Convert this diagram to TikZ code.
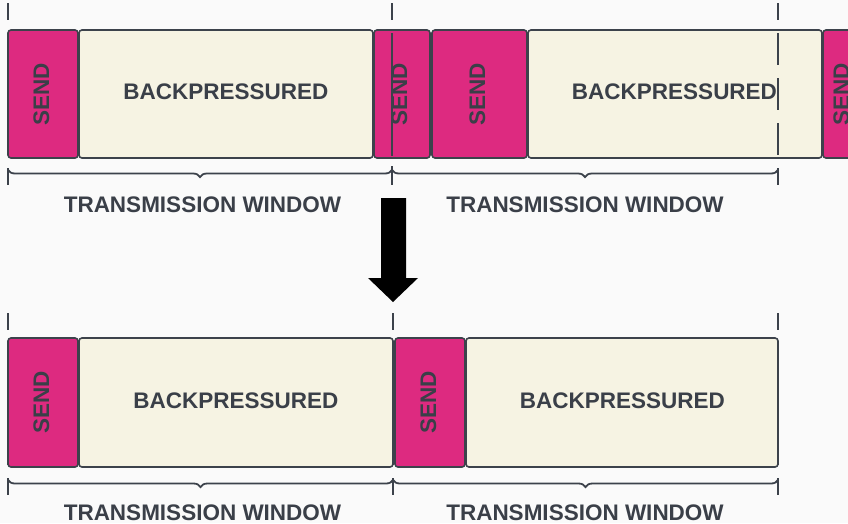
\documentclass[tikz,border=0pt]{standalone}
\usepackage{fontspec}
\setmainfont{Liberation Sans}
\usetikzlibrary{decorations.pathreplacing}
\definecolor{pinkc}{HTML}{DD2A80}
\definecolor{creamc}{HTML}{F6F3E3}
\definecolor{edgec}{HTML}{3C424B}
\definecolor{txtc}{HTML}{3A3F48}
\definecolor{bgc}{HTML}{FAFAFA}
\begin{document}
\begin{tikzpicture}[x=1pt,y=-1pt,
  box/.style={draw=edgec, line width=1.6pt, rounded corners=3pt, inner sep=0pt, outer sep=0pt, anchor=north west},
  sendbox/.style={box, fill=pinkc},
  bpbox/.style={box, fill=creamc},
  lbl/.style={font=\bfseries\fontsize{22.5}{27}\selectfont, text=txtc, inner sep=0pt, anchor=base},
  sendlbl/.style={lbl, rotate=90},
  winline/.style={draw=edgec, line width=2pt, dash pattern=on 32pt off 13pt, dash phase=15pt},
  bracestyle/.style={draw=edgec, line width=1.8pt, decorate, decoration={brace, mirror, amplitude=7pt, aspect=0.5}},
]
\useasboundingbox[fill=bgc] (0,0) rectangle (848,523);
\clip (0,0) rectangle (848,523);

% ---------- top row ----------
\node[sendbox, minimum width=70pt, minimum height=128pt] (ts1) at (8,30) {};
\node[bpbox, minimum width=294pt, minimum height=128pt] (tb1) at (79,30) {};
\node[sendbox, minimum width=56pt, minimum height=128pt] (ts2) at (374,30) {};
\node[sendbox, minimum width=95pt, minimum height=128pt] (ts3) at (432,30) {};
\node[bpbox, minimum width=294pt, minimum height=128pt] (tb2) at (528,30) {};
\node[sendbox, minimum width=60pt, minimum height=128pt] (ts4) at (823,30) {};

\node[sendlbl] (tl1) at (49,94) {SEND};
\node[lbl] (tl2) at (226,99) {BACKPRESSURED};
\node[sendlbl] (tl3) at (407,94) {SEND};
\node[sendlbl] (tl4) at (485,94) {SEND};
\node[lbl] (tl5) at (674.5,99) {BACKPRESSURED};
\node[sendlbl] (tl6) at (849,94) {SEND};

% window markers (top)
\coordinate (ta1) at (8,3);   \coordinate (tz1) at (8,185);
\coordinate (ta2) at (392,3); \coordinate (tz2) at (392,185);
\coordinate (ta3) at (778,3); \coordinate (tz3) at (778,185);
\draw[winline] (ta1) -- (tz1);
\draw[draw=edgec, line width=2pt, dash pattern=on 17pt off 13pt on 123pt off 10pt on 20pt] (ta2) -- (tz2);
\draw[winline] (ta3) -- (tz3);

\coordinate (tbr1) at (8,170); \coordinate (tbr2) at (392,170); \coordinate (tbr3) at (778,170);
\draw[bracestyle] (tbr1) -- (tbr2);
\draw[bracestyle] (tbr2) -- (tbr3);
\node[lbl] (tw1) at (202.5,212) {TRANSMISSION WINDOW};
\node[lbl] (tw2) at (585,212) {TRANSMISSION WINDOW};

% ---------- arrow ----------
\coordinate (aw1) at (381,198);
\fill[black] (381,198) -- (406,198) -- (406,278) -- (418,278) -- (393,302) -- (368,278) -- (381,278) -- cycle;

% ---------- bottom row ----------
\node[sendbox, minimum width=70pt, minimum height=129pt] (bs1) at (8,338) {};
\node[bpbox, minimum width=314pt, minimum height=129pt] (bb1) at (79,338) {};
\node[sendbox, minimum width=70pt, minimum height=129pt] (bs2) at (395,338) {};
\node[bpbox, minimum width=312pt, minimum height=129pt] (bb2) at (466,338) {};

\node[sendlbl] (bl1) at (49,402.5) {SEND};
\node[lbl] (bl2) at (236,408) {BACKPRESSURED};
\node[sendlbl] (bl3) at (436,402.5) {SEND};
\node[lbl] (bl4) at (622.5,408) {BACKPRESSURED};

\coordinate (ba1) at (8,313);   \coordinate (bz1) at (8,495);
\coordinate (ba2) at (393,313); \coordinate (bz2) at (393,495);
\coordinate (ba3) at (778,313); \coordinate (bz3) at (778,495);
\draw[winline] (ba1) -- (bz1);
\draw[winline] (ba2) -- (bz2);
\draw[winline] (ba3) -- (bz3);

\coordinate (bbr1) at (8,480); \coordinate (bbr2) at (393,480); \coordinate (bbr3) at (778,480);
\draw[bracestyle] (bbr1) -- (bbr2);
\draw[bracestyle] (bbr2) -- (bbr3);
\node[lbl] (bw1) at (202.5,520) {TRANSMISSION WINDOW};
\node[lbl] (bw2) at (585,520) {TRANSMISSION WINDOW};
\end{tikzpicture}
\end{document}
